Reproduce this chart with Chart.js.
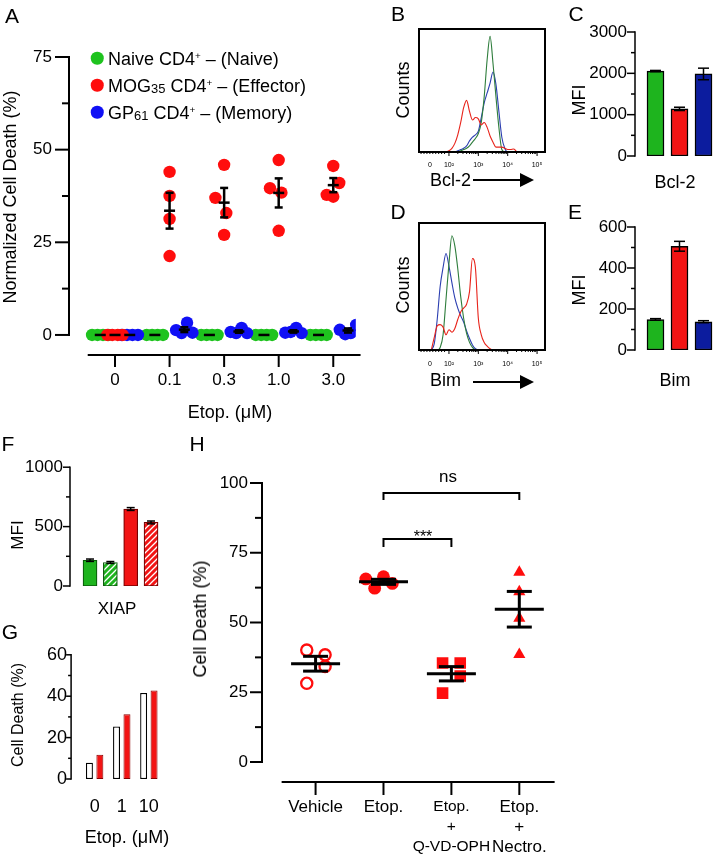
<!DOCTYPE html>
<html>
<head>
<meta charset="utf-8">
<script src="https://cdn.jsdelivr.net/npm/chart.js@4.4.1/dist/chart.umd.min.js"></script>
<style>
html, body { margin: 0; padding: 0; background: #fff; }
body { width: 714px; height: 856px; position: relative; overflow: hidden; font-family: 'Liberation Sans', Arial, sans-serif; color: #000; }
canvas { position: absolute; }
.t { position: absolute; white-space: nowrap; line-height: 1; transform: translate(-50%, -50%); }
.l { position: absolute; white-space: nowrap; line-height: 1; transform: translate(0, -50%); }
.r { position: absolute; white-space: nowrap; line-height: 1; transform: translate(-50%, -50%) rotate(-90deg); }
.letter { font-size: 21px; }
sup { font-size: 55%; vertical-align: 0.6em; line-height: 0; }
sub { font-size: 72%; vertical-align: -0.05em; line-height: 0; }
.dot { position: absolute; width: 12.5px; height: 12.5px; border-radius: 50%; transform: translate(-50%, -50%); }
.shaft { position: absolute; height: 2px; background: #000; }
.head { position: absolute; width: 0; height: 0; border-top: 7px solid transparent; border-bottom: 7px solid transparent; border-left: 14px solid #000; }
</style>
</head>
<body>

<canvas id="chartA" width="362" height="440" style="left:0;top:0"></canvas>
<canvas id="chartB" width="160" height="190" style="left:400px;top:0"></canvas>
<canvas id="chartC" width="156" height="200" style="left:560px;top:0"></canvas>
<canvas id="chartD" width="160" height="190" style="left:400px;top:200px"></canvas>
<canvas id="chartE" width="156" height="200" style="left:560px;top:200px"></canvas>
<canvas id="chartF" width="200" height="190" style="left:0;top:440px"></canvas>
<canvas id="chartG" width="200" height="226" style="left:0;top:630px"></canvas>
<canvas id="chartH" width="390" height="416" style="left:190px;top:440px"></canvas>

<div class="t letter" style="left:12px;top:15px">A</div>
<div class="t letter" style="left:398px;top:13px">B</div>
<div class="t letter" style="left:576px;top:13px">C</div>
<div class="t letter" style="left:398px;top:211px">D</div>
<div class="t letter" style="left:575px;top:211px">E</div>
<div class="t letter" style="left:8px;top:443px">F</div>
<div class="t letter" style="left:10px;top:631px">G</div>
<div class="t letter" style="left:197px;top:443px">H</div>

<!-- A -->
<div class="dot" style="left:97px;top:58px;background:#1ec31e"></div>
<div class="dot" style="left:97px;top:85px;background:#ff0d0d"></div>
<div class="dot" style="left:97px;top:112px;background:#1010f5"></div>
<div class="l" style="left:108px;top:59px;font-size:18px">Naive CD4<sup>+</sup> – (Naive)</div>
<div class="l" style="left:108px;top:86px;font-size:18px">MOG<sub>35</sub> CD4<sup>+</sup> – (Effector)</div>
<div class="l" style="left:108px;top:113px;font-size:18px">GP<sub>61</sub> CD4<sup>+</sup> – (Memory)</div>
<div class="r" style="left:10px;top:197px;font-size:18px">Normalized Cell Death (%)</div>
<div class="t" style="left:230px;top:412px;font-size:18px">Etop. (μM)</div>

<!-- B, D -->
<div class="r" style="left:403px;top:90px;font-size:18px">Counts</div>
<div class="l" style="left:430px;top:180px;font-size:18px">Bcl-2</div>
<div class="shaft" style="left:473px;top:179px;width:48px"></div>
<div class="head" style="left:520px;top:173px"></div>
<div class="r" style="left:403px;top:285px;font-size:18px">Counts</div>
<div class="l" style="left:430px;top:380px;font-size:18px">Bim</div>
<div class="shaft" style="left:473px;top:381px;width:48px"></div>
<div class="head" style="left:520px;top:375px"></div>

<!-- C, E -->
<div class="r" style="left:579px;top:100px;font-size:18px">MFI</div>
<div class="t" style="left:675px;top:182px;font-size:18px">Bcl-2</div>
<div class="r" style="left:579px;top:290px;font-size:18px">MFI</div>
<div class="t" style="left:675px;top:380px;font-size:18px">Bim</div>

<!-- F, G -->
<div class="r" style="left:17px;top:535px;font-size:17px">MFI</div>
<div class="t" style="left:117px;top:608px;font-size:17px">XIAP</div>
<div class="r" style="left:18px;top:715px;font-size:16px">Cell Death (%)</div>
<div class="t" style="left:127px;top:837px;font-size:18px">Etop. (μM)</div>

<!-- H -->
<div class="r" style="left:200px;top:619px;font-size:18px">Cell Death (%)</div>
<div class="t" style="left:423px;top:537px;font-size:16px">***</div>
<div class="t" style="left:448px;top:476px;font-size:17px">ns</div>

<script>
// ---- A: normalized cell death vs etoposide dose, 4 mice per group
const etopDoses = ['0', '0.1', '0.3', '1.0', '3.0'];
const naiveDeath = [[0, 0, 0, 0], [0, 0, 0, 0], [0, 0, 0, 0], [0, 0, 0, 0], [0, 0, 0, 0]];
const effectorDeath = [[0, 0, 0, 0], [44, 37.5, 31.3, 21.3], [45.9, 37, 32.9, 27], [47.2, 39.6, 38.4, 28.1], [45.6, 41, 37.8, 37.3]];
const memoryDeath = [[0, 0, 0, 0], [1.3, 0.5, 3.3, 0.6], [0.8, 0.5, 1.9, 0.5], [0.6, 0.8, 1.9, 0.5], [1.4, 0.2, 0.5, 2.7]];

// ---- B / D: flow histograms (x in decades, y in % of max)
const flowTicks = ['0', '10²', '10³', '10⁴', '10⁵'];
const bcl2Bins = [1.8, 1.9, 2.0, 2.1, 2.2, 2.3, 2.4, 2.5, 2.6, 2.7, 2.8, 2.9, 3.0, 3.1, 3.2, 3.3, 3.4, 3.5, 3.6, 3.7, 3.8, 3.9, 4.0, 4.1, 4.2, 4.3, 4.4];
const bcl2Effector = [0, 0, 1, 3, 7, 14, 24, 36, 42, 33, 26, 28, 27, 22, 24, 20, 13, 8, 4, 4, 4, 3, 2, 2, 2.5, 0.5, 0];
const bcl2Naive = [0, 0, 0, 0, 0, 0, 1, 2, 3, 5, 8, 11, 15, 24, 45, 75, 94, 72, 45, 20, 2, 0, 0, 0, 0, 0, 0];
const bcl2Memory = [0, 0, 0, 0, 0, 1, 2, 3, 5, 9, 12, 14, 17, 28, 40, 48, 56, 65, 55, 33, 12, 3, 0, 0, 0, 0, 0];
const bimBins = [1.4, 1.5, 1.6, 1.7, 1.8, 1.9, 2.0, 2.1, 2.2, 2.3, 2.4, 2.5, 2.6, 2.7, 2.8, 2.9, 3.0, 3.1, 3.2, 3.3, 3.4, 3.5, 3.6];
const bimEffector = [0, 10, 19, 20, 18, 12, 16, 14, 17, 24, 30, 33, 36, 46, 72, 65, 25, 12, 6, 3, 1, 0, 0];
const bimNaive = [0, 0, 0, 2, 12, 40, 68, 90, 82, 64, 42, 25, 13, 6, 2, 0, 0, 0, 0, 0, 0, 0, 0];
const bimMemory = [0, 5, 24, 50, 65, 76, 66, 53, 41, 33, 27, 22, 15, 9, 4, 1, 0, 0, 0, 0, 0, 0, 0];

// ---- C / E: MFI bars
const subsets = ['Naive', 'Effector', 'Memory'];
const bcl2MFI = [2055, 1140, 1985];
const bcl2Err = [15, 40, 140];
const bimMFI = [149, 506, 138];
const bimErr = [4, 24, 5];

// ---- F: XIAP
const xiapGroups = ['Naive', 'Naive (2)', 'Effector', 'Effector (2)'];
const xiapMFI = [217, 198, 648, 535];
const xiapErr = [10, 8, 12, 12];

// ---- G
const etopDosesG = ['0', '1', '10'];
const deathControl = [7.9, 25.4, 41.6];
const deathTreated = [11.7, 31.3, 42.7];

// ---- H
const treatments = [['Vehicle'], ['Etop.'], ['Etop.', '+', 'Q-VD-OPH'], ['Etop.', '+', 'Nectro.']];
const vehicleDeath = [40.1, 38.4, 34.2, 28.2];
const etopDeath = [65.6, 62.3, 66.4, 64.0];
const qvdDeath = [35.5, 35.5, 30.8, 24.7];
const nectroDeath = [68, 61, 51.5, 38.5];

const FONT = "'Liberation Sans', Arial, sans-serif";
const GREEN = '#1ec31e', RED = '#ff0d0d', BLUE = '#1010f5';
const BAR_GREEN = '#1eb41e', BAR_RED = '#f21414', BAR_BLUE = '#0c1c9e';
Chart.defaults.font.family = FONT;
Chart.defaults.color = '#000';

function mean(a) { return a.reduce((s, v) => s + v, 0) / a.length; }
function sem(a) {
  const m = mean(a);
  return Math.sqrt(a.reduce((s, v) => s + (v - m) * (v - m), 0) / (a.length - 1) / a.length);
}

// axes, frames, mean/SEM marks and brackets in the GraphPad look
const gp = {
  id: 'gp',
  afterDatasetsDraw(chart, args, o) {
    const { ctx, chartArea: ca, scales: { x, y } } = chart;
    const seg = (x1, y1, x2, y2) => { ctx.beginPath(); ctx.moveTo(x1, y1); ctx.lineTo(x2, y2); ctx.stroke(); };
    ctx.save();
    ctx.strokeStyle = '#000';
    if (o.frame) {
      ctx.lineWidth = o.frame;
      ctx.strokeRect(ca.left, ca.top, ca.right - ca.left, ca.bottom - ca.top);
    }
    if (o.yAxis) {
      const a = o.yAxis, ax = ca.left - (a.gap || 0);
      ctx.lineWidth = a.lw;
      ctx.lineCap = 'square';
      seg(ax, y.getPixelForValue(a.from), ax, y.getPixelForValue(a.to));
      ctx.lineCap = 'butt';
      a.major.forEach(v => { const p = y.getPixelForValue(v); seg(ax, p, ax - a.majorLen, p); });
      (a.minor || []).forEach(v => { const p = y.getPixelForValue(v); seg(ax, p, ax - a.minorLen, p); });
    }
    if (o.xAxis) {
      const a = o.xAxis, ay = ca.bottom;
      ctx.lineWidth = a.lw;
      if (a.line !== false) seg(x.getPixelForValue(a.from), ay, x.getPixelForValue(a.to), ay);
      a.major.forEach(v => { const p = x.getPixelForValue(v); seg(p, ay, p, ay + a.majorLen); });
      (a.minor || []).forEach(v => { const p = x.getPixelForValue(v); seg(p, ay, p, ay + a.minorLen); });
    }
    (o.marks || []).forEach(m => {
      ctx.lineWidth = m.lw;
      const px = x.getPixelForValue(m.x);
      if (m.err > 0) {
        const lo = y.getPixelForValue(m.mean - m.err), hi = y.getPixelForValue(m.mean + m.err);
        seg(px, lo, px, hi);
        seg(px - m.cap, lo, px + m.cap, lo);
        seg(px - m.cap, hi, px + m.cap, hi);
      }
      if (m.half) { const pm = y.getPixelForValue(m.mean); seg(px - m.half, pm, px + m.half, pm); }
    });
    (o.brackets || []).forEach(b => {
      ctx.lineWidth = 2;
      const x1 = x.getPixelForValue(b.from), x2 = x.getPixelForValue(b.to), py = y.getPixelForValue(b.y);
      ctx.beginPath();
      ctx.moveTo(x1, py + b.drop); ctx.lineTo(x1, py); ctx.lineTo(x2, py); ctx.lineTo(x2, py + b.drop);
      ctx.stroke();
    });
    ctx.restore();
  }
};
Chart.register(gp);

function linearY(o) {
  return {
    type: 'linear', min: o.min, max: o.max, bounds: 'data',
    afterFit: s => { s.width = o.width; },
    afterBuildTicks: s => { s.ticks = o.ticks.map(v => ({ value: v })); },
    grid: { display: false, drawTicks: false }, border: { display: false },
    ticks: { padding: o.padding, color: '#000', font: { family: FONT, size: o.size }, callback: v => String(v) }
  };
}

function linearX(o) {
  return {
    type: 'linear', min: o.min, max: o.max, bounds: 'data',
    afterFit: s => { s.height = o.height; },
    afterBuildTicks: s => { s.ticks = o.ticks.map(v => ({ value: v })); },
    grid: { display: false, drawTicks: false }, border: { display: false },
    ticks: {
      autoSkip: false, maxRotation: 0, padding: o.padding, color: '#000',
      font: o.font || { family: FONT, size: o.size, lineHeight: o.lineHeight || 1.2 },
      callback: (v, i) => o.labels[i]
    }
  };
}

function makeChart(id, type, data, pad, scales, opts) {
  return new Chart(document.getElementById(id), {
    type, data,
    options: {
      responsive: false, animation: false, events: [],
      layout: { padding: pad },
      plugins: { legend: { display: false }, tooltip: { enabled: false }, gp: opts },
      scales
    }
  });
}

// ---------- A ----------
const groupShift = [-0.27, 0, 0.27];
const spread = [-0.15, -0.05, 0.05, 0.15];
const effectorSpread = [[-0.14, -0.05, 0.05, 0.14], [0, 0, 0, 0], [0, -0.16, 0.04, 0], [0, -0.16, 0.05, 0], [0, 0.11, -0.12, 0]];

function cloud(groups, shift, jit) {
  const pts = [];
  groups.forEach((vals, i) => vals.forEach((v, k) => pts.push({ x: i + shift + jit(i, k), y: v })));
  return pts;
}
function dotSet(data, color) {
  return { data, backgroundColor: color, borderColor: color, borderWidth: 0, pointRadius: 6.2 };
}

const marksA = [];
[naiveDeath, effectorDeath, memoryDeath].forEach((g, gi) => g.forEach((vals, i) => {
  marksA.push({ x: i + groupShift[gi], mean: mean(vals), err: sem(vals), half: 5.5, cap: 4, lw: 2.5 });
}));

// first dataset is drawn on top, so effector comes first
makeChart('chartA', 'scatter', {
  datasets: [
    dotSet(cloud(effectorDeath, groupShift[1], (i, k) => effectorSpread[i][k]), RED),
    dotSet(cloud(memoryDeath, groupShift[2], (i, k) => spread[k]), BLUE),
    dotSet(cloud(naiveDeath, groupShift[0], (i, k) => spread[k]), GREEN)
  ]
}, { top: 57 }, {
  x: linearX({ min: -0.843, max: 4.413, height: 85, ticks: [0, 1, 2, 3, 4], labels: etopDoses, padding: 15, size: 17 }),
  y: linearY({ min: -5.41, max: 75, width: 69, ticks: [0, 25, 50, 75], padding: 17, size: 17 })
}, {
  yAxis: { from: 0, to: 75, major: [0, 25, 50, 75], minor: [12.5, 37.5, 62.5], majorLen: 14, minorLen: 7, lw: 2 },
  xAxis: { from: -0.5, to: 4.5, major: [0, 1, 2, 3, 4], majorLen: 12, lw: 2 },
  marks: marksA
});

// ---------- B / D ----------
const flowMinor = [1.05, 1.15, 1.25, 1.35, 1.45, 1.55, 1.65, 1.75, 1.85];
[2, 3, 4].forEach(d => [2, 3, 4, 5, 6, 7, 8, 9].forEach(k => flowMinor.push(d + Math.log10(k))));

function histo(bins, counts, color) {
  return {
    data: bins.map((b, i) => ({ x: b, y: counts[i] })),
    borderColor: color, borderWidth: 1.1, pointRadius: 0, fill: false,
    cubicInterpolationMode: 'monotone'
  };
}
function flowChart(id, bins, red, green, blue, top, xHeight, tickPad) {
  makeChart(id, 'line', {
    datasets: [histo(bins, red, '#e8231a'), histo(bins, green, '#2e7d3c'), histo(bins, blue, '#2b3eb0')]
  }, { top, left: 19, right: 15 }, {
    x: linearX({ min: 0.98, max: 5.27, height: xHeight, ticks: [1.35, 2, 3, 4, 5], labels: flowTicks, padding: tickPad, size: 7 }),
    y: { display: false, min: 0, max: 100 }
  }, {
    frame: 2,
    xAxis: { line: false, major: [2, 3, 4, 5], majorLen: 4, minor: flowMinor, minorLen: 2, lw: 1 }
  });
}
flowChart('chartB', bcl2Bins, bcl2Effector, bcl2Naive, bcl2Memory, 29, 38, 9);
flowChart('chartD', bimBins, bimEffector, bimNaive, bimMemory, 23, 40, 10);

// ---------- C / E ----------
function errMarks(vals, errs, cap) {
  return vals.map((v, i) => ({ x: i, mean: v, err: errs[i], half: 0, cap, lw: 1.5 }));
}
function mfiChart(id, vals, errs, top, bottom, max, major, minor) {
  makeChart(id, 'bar', {
    labels: subsets,
    datasets: [{
      data: vals, backgroundColor: [BAR_GREEN, BAR_RED, BAR_BLUE],
      borderColor: '#000', borderWidth: 1.5, borderSkipped: false, barThickness: 17
    }]
  }, { top, bottom, right: 0.5 }, {
    x: { display: false },
    y: linearY({ min: 0, max, width: 83.5, ticks: major, padding: 16.5, size: 17 })
  }, {
    yAxis: { gap: 8.5, from: 0, to: max, major, minor, majorLen: 8, minorLen: 4, lw: 1.5 },
    marks: errMarks(vals, errs, 5.5)
  });
}
mfiChart('chartC', bcl2MFI, bcl2Err, 32, 44, 3000, [0, 1000, 2000, 3000], [500, 1500, 2500]);
mfiChart('chartE', bimMFI, bimErr, 27, 50, 600, [0, 200, 400, 600], [100, 300, 500]);

// ---------- F ----------
function hatch(color) {
  const c = document.createElement('canvas');
  c.width = 6; c.height = 6;
  const g = c.getContext('2d');
  g.fillStyle = color;
  g.fillRect(0, 0, 6, 6);
  g.strokeStyle = '#fff';
  g.lineWidth = 1.3;
  g.beginPath();
  g.moveTo(0, 6); g.lineTo(6, 0);
  g.moveTo(-3, 3); g.lineTo(3, -3);
  g.moveTo(3, 9); g.lineTo(9, 3);
  g.stroke();
  return g.createPattern(c, 'repeat');
}
makeChart('chartF', 'bar', {
  labels: xiapGroups,
  datasets: [{
    data: xiapMFI,
    backgroundColor: [BAR_GREEN, hatch(BAR_GREEN), BAR_RED, hatch(BAR_RED)],
    borderColor: ['#0a5a0a', '#0a5a0a', '#700', '#700'], borderWidth: 1.2, borderSkipped: false, barThickness: 14
  }]
}, { top: 20, right: 38.8, bottom: 44 }, {
  x: { display: false },
  y: linearY({ min: 0, max: 1000, width: 79.85, ticks: [0, 500, 1000], padding: 17, size: 17 })
}, {
  yAxis: { gap: 9.85, from: 0, to: 1000, major: [0, 500, 1000], minor: [250, 750], majorLen: 7, minorLen: 4, lw: 1.5 },
  marks: errMarks(xiapMFI, xiapErr, 4)
});

// ---------- G ----------
makeChart('chartG', 'bar', {
  labels: etopDosesG,
  datasets: [
    { data: deathControl, backgroundColor: '#fff', borderColor: '#000', borderWidth: 1.3, borderSkipped: false, categoryPercentage: 0.77, barPercentage: 0.667 },
    { data: deathTreated, backgroundColor: BAR_RED, borderColor: '#800', borderWidth: 1, borderSkipped: false, categoryPercentage: 0.77, barPercentage: 0.667 }
  ]
}, { top: 23, right: 37.6 }, {
  x: {
    afterFit: s => { s.height = 77; },
    grid: { display: false, drawTicks: false }, border: { display: false },
    ticks: { padding: 17, color: '#000', font: { family: FONT, size: 18 } }
  },
  y: linearY({ min: 0, max: 60, width: 81.1, ticks: [0, 20, 40, 60], padding: 14, size: 18 })
}, {
  yAxis: { gap: 10, from: 0, to: 60, major: [0, 20, 40, 60], minor: [10, 30, 50], majorLen: 5, minorLen: 3, lw: 1.5 }
});

// ---------- H ----------
function groupPts(vals, i, jit) { return vals.map((v, k) => ({ x: i + jit[k], y: v })); }
const hGroups = [vehicleDeath, etopDeath, qvdDeath, nectroDeath];
makeChart('chartH', 'scatter', {
  datasets: [
    { data: groupPts(vehicleDeath, 0, [-0.13, 0.14, 0.14, -0.13]), pointStyle: 'circle', pointRadius: 5.6, backgroundColor: 'rgba(255,255,255,0)', borderColor: RED, borderWidth: 2.3 },
    { data: groupPts(etopDeath, 1, [-0.26, -0.13, 0, 0.13]), pointStyle: 'circle', pointRadius: 6.4, backgroundColor: RED, borderColor: RED, borderWidth: 0 },
    { data: groupPts(qvdDeath, 2, [-0.13, 0.13, 0.13, -0.13]), pointStyle: 'rect', pointRadius: 8.2, backgroundColor: RED, borderColor: RED, borderWidth: 0 },
    { data: groupPts(nectroDeath, 3, [0, 0, 0, 0]), pointStyle: 'triangle', pointRadius: 7, backgroundColor: RED, borderColor: RED, borderWidth: 0 }
  ]
}, { top: 43 }, {
  x: linearX({
    min: -0.789, max: 3.773, height: 74, ticks: [0, 1, 2, 3], labels: treatments, padding: 15,
    font: c => ({ family: FONT, size: c.index === 2 ? 15.5 : 17, lineHeight: c.index === 2 ? 20 / 15.5 : 20 / 17 })
  }),
  y: linearY({ min: -7.17, max: 100, width: 72, ticks: [0, 25, 50, 75, 100], padding: 14, size: 17 })
}, {
  yAxis: { from: 0, to: 100, major: [0, 25, 50, 75, 100], minor: [12.5, 37.5, 62.5, 87.5], majorLen: 12, minorLen: 7, lw: 2 },
  xAxis: { from: -0.5, to: 3.52, major: [0, 1, 2, 3], majorLen: 13, lw: 2 },
  marks: hGroups.map((g, i) => ({ x: i, mean: mean(g), err: sem(g), half: 24.5, cap: 12.5, lw: 3 })),
  brackets: [{ from: 1, to: 2, y: 79.9, drop: 8 }, { from: 1, to: 3, y: 96.4, drop: 7 }]
});
</script>
</body>
</html>
